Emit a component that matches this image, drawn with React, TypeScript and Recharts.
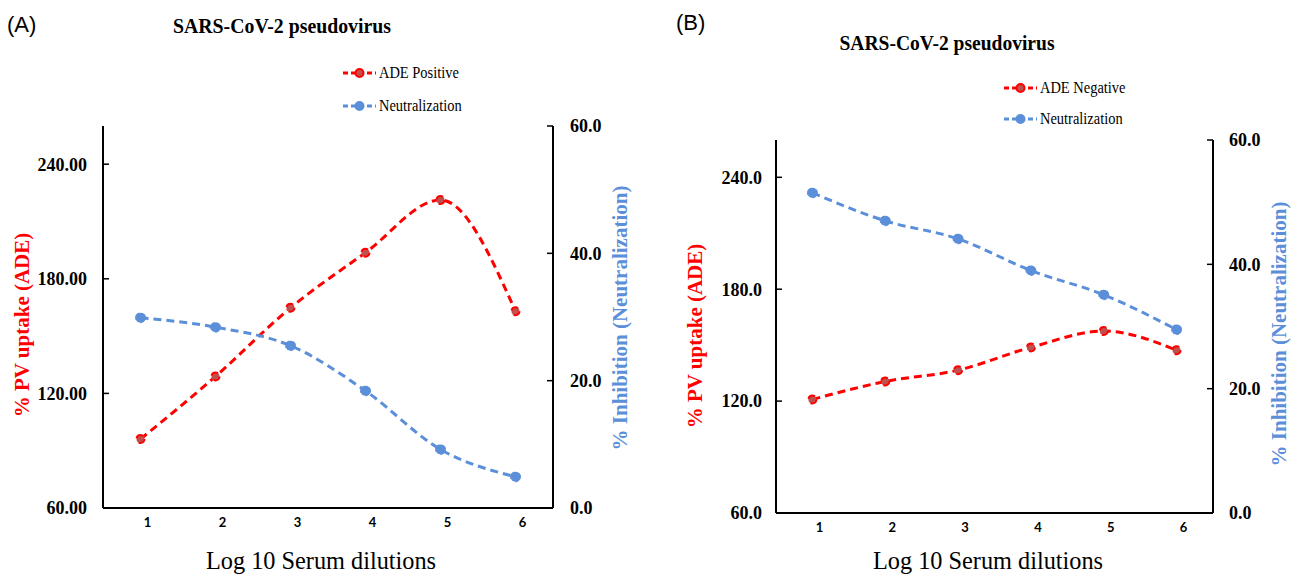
import React from 'react';
import { LineChart, Line, XAxis, YAxis, Legend } from 'recharts';

// values
const dilutions = ['1', '2', '3', '4', '5', '6'];
const adePositive = [96.1, 128.9, 164.8, 193.7, 221.3, 163.0];
const neutralizationA = [29.9, 28.4, 25.5, 18.4, 9.2, 4.9];
const adeNegative = [120.9, 130.5, 136.6, 148.8, 157.6, 147.3];
const neutralizationB = [51.5, 47.0, 44.1, 39.0, 35.1, 29.5];
const uptakeTicks = [60, 120, 180, 240];
const inhibitionTicks = [0, 20, 40, 60];

const RED = '#ff0000';
const RED_FILL = '#c0504d';
const BLUE = '#5b8fd9';
const SERIF = '"Liberation Serif", "Times New Roman", serif';
const SANS = '"Liberation Sans", Arial, sans-serif';
const TICK_SANS = 'Lato, "Liberation Sans", sans-serif';

const dataA = dilutions.map((d, i) => ({ dilution: d, ade: adePositive[i], neut: neutralizationA[i] }));
const dataB = dilutions.map((d, i) => ({ dilution: d, ade: adeNegative[i], neut: neutralizationB[i] }));

const markerFill: Record<string, string> = { ade: RED_FILL, neut: BLUE };

function LeftTick(props: any) {
  const { x, y, payload, digits, gap } = props;
  const ax = x + gap;
  return (
    <g>
      <line x1={ax} x2={ax + 6} y1={y} y2={y} stroke="#000" strokeWidth={1.5} />
      <text x={x} y={y} dy="0.35em" textAnchor="end" fontFamily={SERIF} fontWeight="bold" fontSize={18} fill="#000">
        {Number(payload.value).toFixed(digits)}
      </text>
    </g>
  );
}

function RightTick(props: any) {
  const { x, y, payload, gap } = props;
  const ax = x - gap;
  return (
    <g>
      <line x1={ax - 6} x2={ax} y1={y} y2={y} stroke="#000" strokeWidth={1.5} />
      <text x={x} y={y} dy="0.35em" textAnchor="start" fontFamily={SERIF} fontWeight="bold" fontSize={18} fill="#000">
        {Number(payload.value).toFixed(1)}
      </text>
    </g>
  );
}

function XTick(props: any) {
  const { x, y, payload } = props;
  return (
    <text x={x + 7} y={y} dy="0.72em" textAnchor="middle" fontFamily={TICK_SANS} fontWeight="bold" fontSize={13} fill="#000">
      {payload.value}
    </text>
  );
}

const verticalTitle = (text: string, color: string, offsetX: number, dy: number) => (props: any) => {
  const vb = props.viewBox || {};
  const cx = vb.x + offsetX;
  const cy = vb.y + vb.height / 2 + dy;
  return (
    <text
      transform={`translate(${cx},${cy}) rotate(-90)`}
      textAnchor="middle"
      dominantBaseline="central"
      fontFamily={SERIF}
      fontWeight="bold"
      fontSize={21}
      fill={color}
    >
      {text}
    </text>
  );
};

const bottomTitle = (text: string, dx: number) => (props: any) => {
  const vb = props.viewBox || {};
  return (
    <text
      x={vb.x + vb.width / 2 + dx}
      y={vb.y + vb.height - 5}
      textAnchor="middle"
      fontFamily={SERIF}
      fontSize={25}
      textLength={230}
      lengthAdjust="spacingAndGlyphs"
      fill="#000"
    >
      {text}
    </text>
  );
};

function LegendBox(props: any) {
  const { payload, rowHeight } = props;
  return (
    <div>
      {(payload || []).map((item: any) => (
        <div key={item.dataKey} style={{ display: 'flex', alignItems: 'center', height: rowHeight }}>
          <svg width={33} height={12} style={{ display: 'block' }}>
            <line x1={0} x2={33} y1={6} y2={6} stroke={item.color} strokeWidth={3} strokeDasharray="5 3" />
            <circle cx={16.5} cy={6} r={4} fill={markerFill[item.dataKey]} stroke={item.color} strokeWidth={2} />
          </svg>
          <span
            style={{
              display: 'inline-block',
              marginLeft: 3,
              fontFamily: SERIF,
              fontSize: 17,
              color: '#000',
              whiteSpace: 'nowrap',
              transform: 'scaleX(0.85)',
              transformOrigin: 'left center',
            }}
          >
            {item.value}
          </span>
        </div>
      ))}
    </div>
  );
}

interface PanelProps {
  data: any[];
  adeName: string;
  left: number;
  width: number;
  top: number;
  xHeight: number;
  leftWidth: number;
  rightWidth: number;
  leftDigits: number;
  leftGap: number;
  rightGap: number;
  leftTitleX: number;
  leftTitleDy: number;
  rightTitleX: number;
  rightTitleDy: number;
  legendLeft: number;
  legendTop: number;
  legendRow: number;
  xTitleDx: number;
}

function Panel(p: PanelProps) {
  return (
    <div style={{ position: 'absolute', left: p.left, top: 0 }}>
      <LineChart width={p.width} height={574} data={p.data} margin={{ top: p.top, right: 0, bottom: 0, left: 0 }}>
        <XAxis
          dataKey="dilution"
          scale="band"
          height={p.xHeight}
          tickSize={0}
          tickMargin={10}
          tickLine={false}
          interval={0}
          axisLine={{ stroke: '#000', strokeWidth: 2 }}
          tick={<XTick />}
          label={{ content: bottomTitle('Log 10 Serum dilutions', p.xTitleDx) }}
        />
        <YAxis
          yAxisId="left"
          orientation="left"
          width={p.leftWidth}
          domain={[60, 260]}
          ticks={uptakeTicks}
          interval={0}
          tickSize={0}
          tickMargin={p.leftGap}
          tickLine={false}
          axisLine={{ stroke: '#000', strokeWidth: 2 }}
          tick={<LeftTick digits={p.leftDigits} gap={p.leftGap} />}
          label={{ content: verticalTitle('% PV uptake (ADE)', RED, p.leftTitleX, p.leftTitleDy) }}
        />
        <YAxis
          yAxisId="right"
          orientation="right"
          width={p.rightWidth}
          domain={[0, 60]}
          ticks={inhibitionTicks}
          interval={0}
          tickSize={0}
          tickMargin={p.rightGap}
          tickLine={false}
          axisLine={{ stroke: '#000', strokeWidth: 2 }}
          tick={<RightTick gap={p.rightGap} />}
          label={{ content: verticalTitle('% Inhibition (Neutralization)', BLUE, p.rightTitleX, p.rightTitleDy) }}
        />
        <Legend
          layout="vertical"
          align="center"
          verticalAlign="middle"
          content={<LegendBox rowHeight={p.legendRow} />}
          wrapperStyle={{ left: p.legendLeft, top: p.legendTop, width: 'auto', height: 'auto' }}
        />
        <Line
          yAxisId="left"
          dataKey="ade"
          name={p.adeName}
          type="monotone"
          stroke={RED}
          strokeWidth={3}
          strokeDasharray="8 5"
          dot={{ r: 4, fill: RED_FILL, stroke: RED, strokeWidth: 2 }}
          activeDot={false}
          isAnimationActive={false}
        />
        <Line
          yAxisId="right"
          dataKey="neut"
          name="Neutralization"
          type="monotone"
          stroke={BLUE}
          strokeWidth={3}
          strokeDasharray="8 5"
          dot={{ r: 5, fill: BLUE, stroke: BLUE, strokeWidth: 1 }}
          activeDot={false}
          isAnimationActive={false}
        />
      </LineChart>
    </div>
  );
}

export default function App() {
  return (
    <div style={{ position: 'absolute', left: 0, top: 0, width: 1297, height: 574, background: '#fff', overflow: 'hidden' }}>
      <svg width={1297} height={574} style={{ position: 'absolute', left: 0, top: 0 }}>
        <text x={7} y={32} fontFamily={SANS} fontSize={22} fill="#000">(A)</text>
        <text x={676} y={30} fontFamily={SANS} fontSize={22} fill="#000">(B)</text>
        <text
          x={282}
          y={33}
          textAnchor="middle"
          fontFamily={SERIF}
          fontWeight="bold"
          fontSize={22}
          textLength={218}
          lengthAdjust="spacingAndGlyphs"
          fill="#000"
        >
          SARS-CoV-2 pseudovirus
        </text>
        <text
          x={947}
          y={50}
          textAnchor="middle"
          fontFamily={SERIF}
          fontWeight="bold"
          fontSize={22}
          textLength={215}
          lengthAdjust="spacingAndGlyphs"
          fill="#000"
        >
          SARS-CoV-2 pseudovirus
        </text>
      </svg>
      <Panel
        data={dataA}
        adeName="ADE Positive"
        left={0}
        width={650}
        top={126}
        xHeight={66}
        leftWidth={103}
        rightWidth={97}
        leftDigits={2}
        leftGap={16}
        rightGap={17}
        leftTitleX={22}
        leftTitleDy={8}
        rightTitleX={67}
        rightTitleDy={1}
        legendLeft={343}
        legendTop={56.5}
        legendRow={33}
        xTitleDx={-7}
      />
      <Panel
        data={dataB}
        adeName="ADE Negative"
        left={650}
        width={647}
        top={140}
        xHeight={61}
        leftWidth={126}
        rightWidth={84}
        leftDigits={1}
        leftGap={14}
        rightGap={16}
        leftTitleX={45}
        leftTitleDy={9.5}
        rightTitleX={66}
        rightTitleDy={7.5}
        legendLeft={354}
        legendTop={72.5}
        legendRow={31}
        xTitleDx={-6.5}
      />
    </div>
  );
}
